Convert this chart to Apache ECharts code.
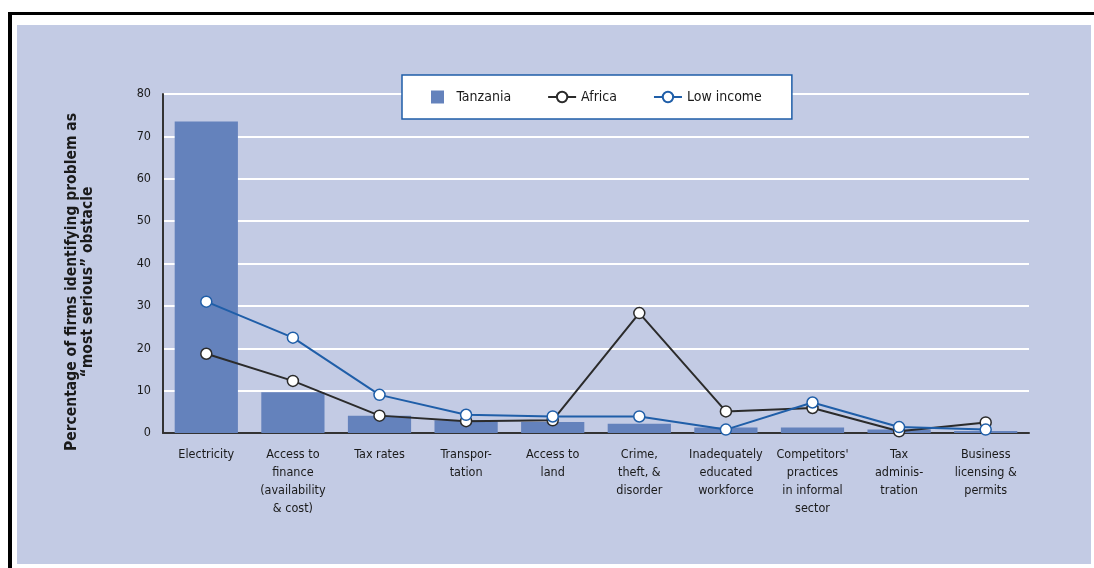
<!DOCTYPE html>
<html>
<head>
<meta charset="utf-8">
<script src="https://cdn.jsdelivr.net/npm/echarts@6/dist/echarts.min.js"></script>
<style>
html,body{margin:0;padding:0;background:#fff;}
#frame{position:absolute;left:8px;top:12px;width:1086px;height:556px;border-top:3px solid #000;border-left:4px solid #000;box-sizing:border-box;}
#panel{position:absolute;left:17px;top:25px;width:1074px;height:539px;background:#c3cbe4;}
#chart{position:absolute;left:0;top:0;width:1094px;height:568px;}
</style>
</head>
<body>
<div id="frame"></div>
<div id="panel"></div>
<div id="chart"></div>
<script>
const categories = [
  "Electricity",
  "Access to\nfinance\n(availability\n& cost)",
  "Tax rates",
  "Transpor-\ntation",
  "Access to\nland",
  "Crime,\ntheft, &\ndisorder",
  "Inadequately\neducated\nworkforce",
  "Competitors'\npractices\nin informal\nsector",
  "Tax\nadminis-\ntration",
  "Business\nlicensing &\npermits"
];
const tanzania  = [73.5, 9.6, 4.1, 3.0, 2.6, 2.2, 1.3, 1.3, 0.85, 0.5];
const africa    = [18.7, 12.3, 4.1, 2.8, 3.0, 28.3, 5.1, 5.9, 0.4, 2.5];
const lowIncome = [31.0, 22.5, 9.0, 4.3, 3.9, 3.9, 0.8, 7.2, 1.4, 0.8];
const yTicks = [0, 10, 20, 30, 40, 50, 60, 70, 80];
const yTitle = "Percentage of firms identifying problem as\n\u201cmost serious\u201d obstacle";

const FONT = "'Liberation Sans Narrow','DejaVu Sans Condensed','Arial Narrow',sans-serif";
const chart = echarts.init(document.getElementById('chart'));
chart.setOption({
  backgroundColor: 'transparent',
  animation: false,
  textStyle: { fontFamily: FONT },
  grid: { left: 163, right: 65, top: 94, bottom: 135 },
  legend: {
    left: 402, top: 75,
    padding: [15, 30, 15, 29],
    itemGap: 36,
    itemWidth: 28, itemHeight: 13,
    backgroundColor: '#ffffff',
    borderColor: '#1f5ea8', borderWidth: 1.5,
    textStyle: { fontFamily: FONT, fontSize: 14, color: '#1a1a1a' },
    data: [
      { name: 'Tanzania', icon: 'path://M0,0H10V10H0Z' },
      { name: 'Africa' },
      { name: 'Low income' }
    ]
  },
  xAxis: {
    type: 'category',
    data: categories,
    axisLine: { lineStyle: { color: '#333', width: 2 } },
    axisTick: { show: false },
    axisLabel: { interval: 0, margin: 13, fontSize: 12.5, lineHeight: 18, color: '#1a1a1a', fontFamily: FONT }
  },
  yAxis: {
    type: 'value',
    min: yTicks[0], max: yTicks[yTicks.length - 1], interval: 10,
    axisLine: { show: true, lineStyle: { color: '#333', width: 2 } },
    axisTick: { show: false },
    axisLabel: { margin: 12, fontSize: 12.5, color: '#1a1a1a', fontFamily: FONT },
    splitLine: { lineStyle: { color: '#ffffff', width: 2 } }
  },
  graphic: [{
    type: 'text',
    x: 80, y: 282,
    rotation: Math.PI / 2,
    style: {
      text: yTitle,
      align: 'center', verticalAlign: 'middle',
      font: 'bold 15.5px ' + FONT,
      lineHeight: 16,
      fill: '#1a1a1a'
    }
  }],
  series: [
    {
      name: 'Tanzania', type: 'bar', data: tanzania,
      barWidth: '73%',
      itemStyle: { color: '#6482bc' }
    },
    {
      name: 'Africa', type: 'line', data: africa,
      symbol: 'circle', symbolSize: 11,
      lineStyle: { color: '#2b2b2b', width: 2 },
      itemStyle: { color: '#ffffff', borderColor: '#2b2b2b', borderWidth: 1.5 },
      z: 3
    },
    {
      name: 'Low income', type: 'line', data: lowIncome,
      symbol: 'circle', symbolSize: 11,
      lineStyle: { color: '#1f5ea8', width: 2 },
      itemStyle: { color: '#ffffff', borderColor: '#1f5ea8', borderWidth: 1.5 },
      z: 4
    }
  ]
});
</script>
</body>
</html>
